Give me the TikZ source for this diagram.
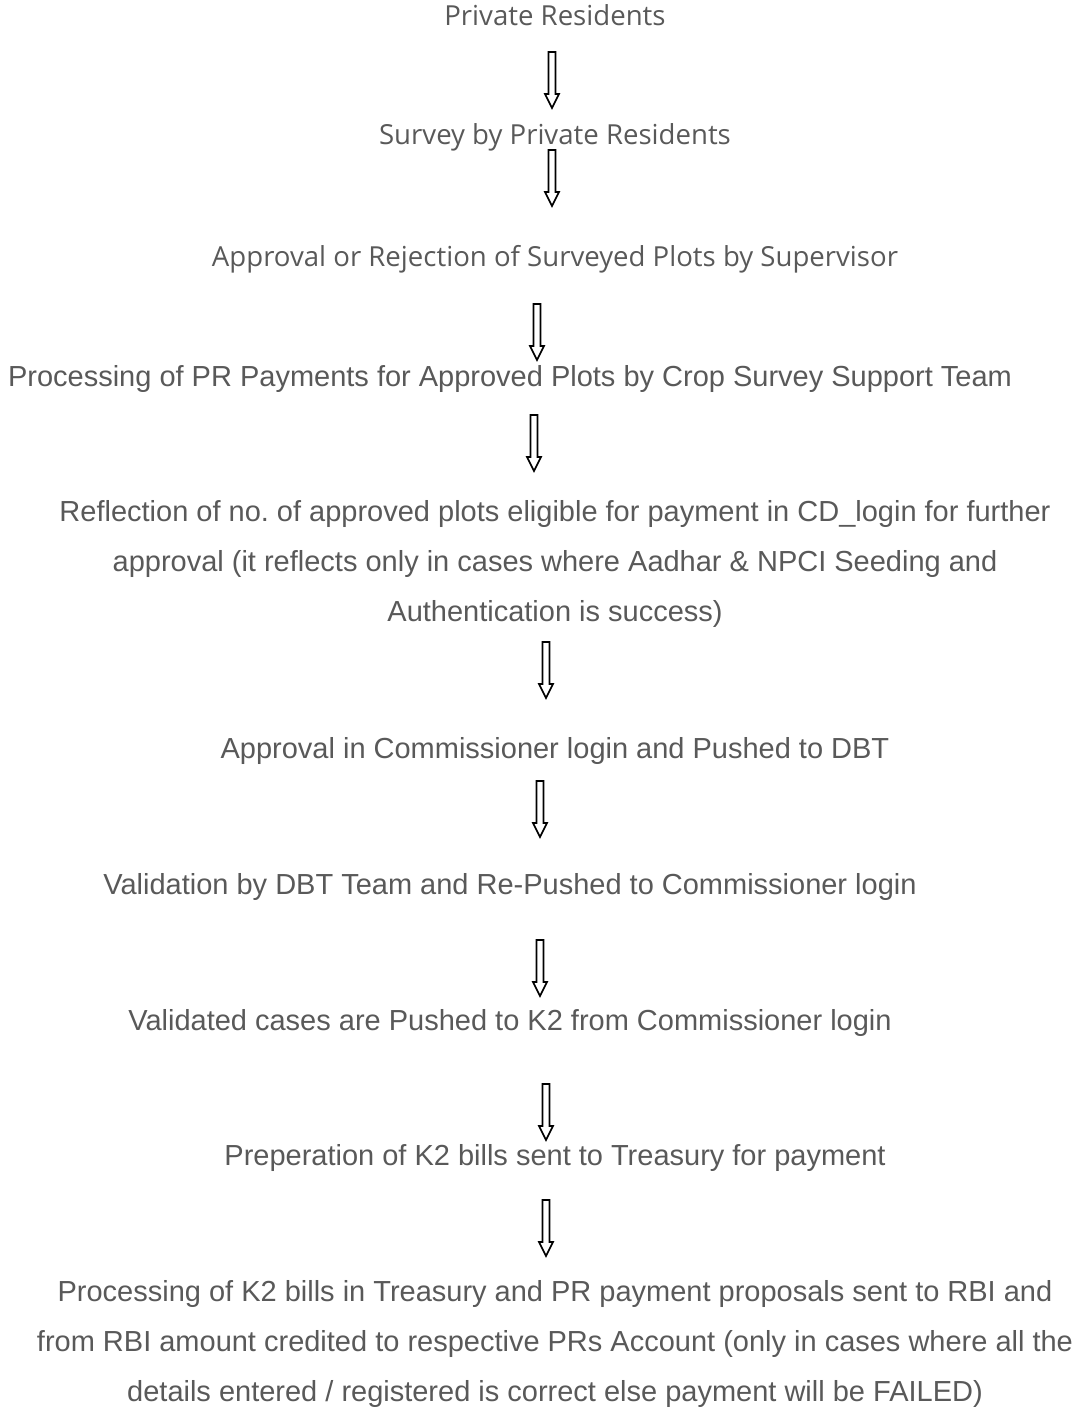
\documentclass[tikz,border=0pt]{standalone}
\usepackage{fontspec}
\setmainfont{Liberation Sans}
\newfontfamily\segoefont{Open Sans}
\definecolor{txtgray}{HTML}{595959}
\frenchspacing
\begin{document}
\begin{tikzpicture}[x=0.02cm,y=-0.02cm,
  lbl/.style={text=txtgray,font=\fontsize{16.5}{28.5}\selectfont,inner sep=0pt,align=center},
  slbl/.style={text=txtgray,font=\segoefont\fontsize{15.7}{20}\selectfont,inner sep=0pt},
  blockarrow/.style={draw=black,line width=1pt,fill=white}]
\useasboundingbox (0,0) rectangle (1080,1411);
\node[slbl] (pr) at (555,15) {Private Residents};
\node[slbl] (survey) at (555,137) {Survey by Private Residents};
\node[slbl] (approval) at (555,259) {Approval or Rejection of Surveyed Plots by Supervisor};
\node[lbl] (processing) at (510,379) {Processing of PR Payments for Approved Plots by Crop Survey Support Team};
\node[lbl] (reflection) at (555,564) {Reflection of no. of approved plots eligible for payment in CD\_login for further\\
approval (it reflects only in cases where Aadhar \& NPCI Seeding and\\
Authentication is success)};
\node[lbl] (commissioner) at (555,751) {Approval in Commissioner login and Pushed to DBT};
\node[lbl] (validation) at (510,887) {Validation by DBT Team and Re-Pushed to Commissioner login};
\node[lbl] (validated) at (510,1023) {Validated cases are Pushed to K2 from Commissioner login};
\node[lbl] (bills) at (555,1158) {Preperation of K2 bills sent to Treasury for payment};
\node[lbl] (treasury) at (555,1344) {Processing of K2 bills in Treasury and PR payment proposals sent to RBI and\\
from RBI amount credited to respective PRs Account (only in cases where all the\\
details entered / registered is correct else payment will be FAILED)};
\foreach \x/\y in {552/52, 552/150, 537/304, 534/415, 546/642, 540/781, 540/940, 546/1084, 546/1200}
\draw[blockarrow] (\x-3.5,\y) -- ++(7,0) -- ++(0,42) -- ++(3.5,0) -- ++(-7,14) -- ++(-7,-14) -- ++(3.5,0) -- cycle;
\end{tikzpicture}
\end{document}
